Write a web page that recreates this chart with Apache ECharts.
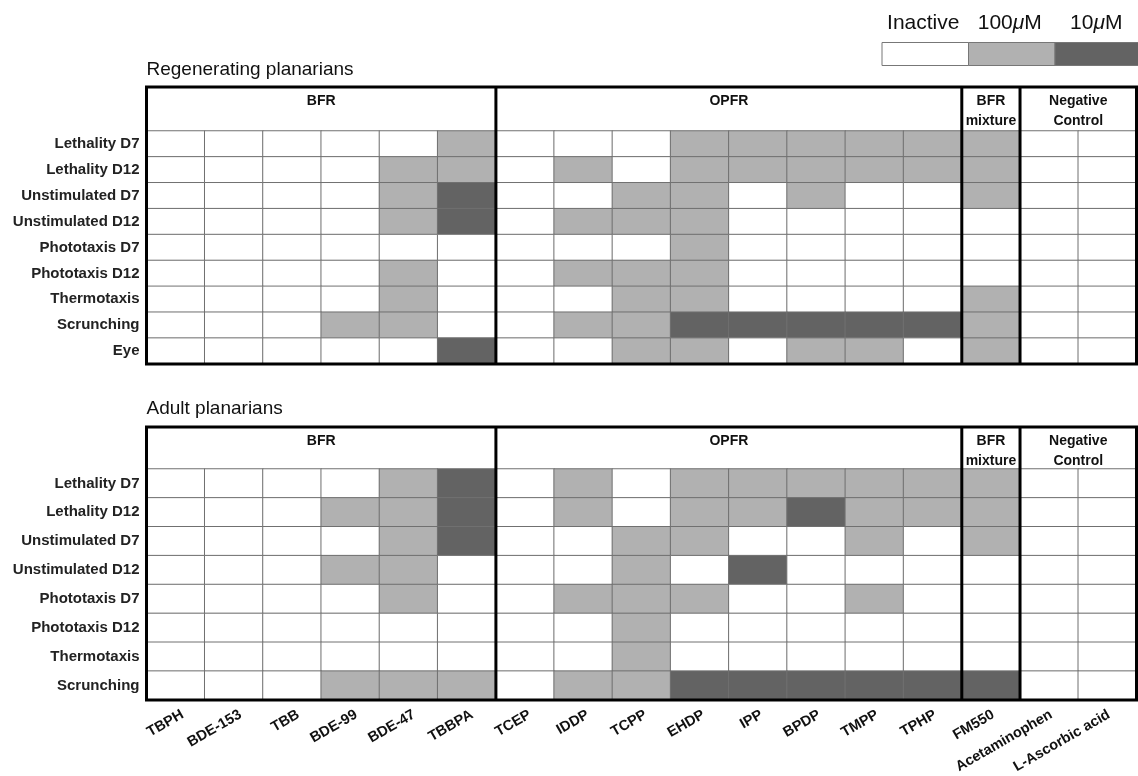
<!DOCTYPE html>
<html>
<head>
<meta charset="utf-8">
<script src="https://cdn.jsdelivr.net/npm/echarts@6/dist/echarts.min.js"></script>
<style>
  html, body { margin: 0; padding: 0; background: #fff; }
  #chart { width: 1138px; height: 776px; }
</style>
</head>
<body>
<div id="chart"></div>
<script>
// compounds, left to right
const compounds = ['TBPH', 'BDE-153', 'TBB', 'BDE-99', 'BDE-47', 'TBBPA', 'TCEP', 'IDDP', 'TCPP',
  'EHDP', 'IPP', 'BPDP', 'TMPP', 'TPHP', 'FM550', 'Acetaminophen', 'L-Ascorbic acid']

// header groups and how many columns each covers
const groupNames = ['BFR', 'OPFR', 'BFR\nmixture', 'Negative\nControl']
const groupSpans = [6, 8, 1, 2]

// 0 = inactive, 1 = 100 µM, 2 = 10 µM
const levels = ['Inactive', '100μM', '10μM']
const levelColors = ['#ffffff', '#b1b1b1', '#636363']

const regenEndpoints = ['Lethality D7', 'Lethality D12', 'Unstimulated D7', 'Unstimulated D12',
  'Phototaxis D7', 'Phototaxis D12', 'Thermotaxis', 'Scrunching', 'Eye']
const regenValues = [
  [0, 0, 0, 0, 0, 1, 0, 0, 0, 1, 1, 1, 1, 1, 1, 0, 0],
  [0, 0, 0, 0, 1, 1, 0, 1, 0, 1, 1, 1, 1, 1, 1, 0, 0],
  [0, 0, 0, 0, 1, 2, 0, 0, 1, 1, 0, 1, 0, 0, 1, 0, 0],
  [0, 0, 0, 0, 1, 2, 0, 1, 1, 1, 0, 0, 0, 0, 0, 0, 0],
  [0, 0, 0, 0, 0, 0, 0, 0, 0, 1, 0, 0, 0, 0, 0, 0, 0],
  [0, 0, 0, 0, 1, 0, 0, 1, 1, 1, 0, 0, 0, 0, 0, 0, 0],
  [0, 0, 0, 0, 1, 0, 0, 0, 1, 1, 0, 0, 0, 0, 1, 0, 0],
  [0, 0, 0, 1, 1, 0, 0, 1, 1, 2, 2, 2, 2, 2, 1, 0, 0],
  [0, 0, 0, 0, 0, 2, 0, 0, 1, 1, 0, 1, 1, 0, 1, 0, 0]
]

const adultEndpoints = ['Lethality D7', 'Lethality D12', 'Unstimulated D7', 'Unstimulated D12',
  'Phototaxis D7', 'Phototaxis D12', 'Thermotaxis', 'Scrunching']
const adultValues = [
  [0, 0, 0, 0, 1, 2, 0, 1, 0, 1, 1, 1, 1, 1, 1, 0, 0],
  [0, 0, 0, 1, 1, 2, 0, 1, 0, 1, 1, 2, 1, 1, 1, 0, 0],
  [0, 0, 0, 0, 1, 2, 0, 0, 1, 1, 0, 0, 1, 0, 1, 0, 0],
  [0, 0, 0, 1, 1, 0, 0, 0, 1, 0, 2, 0, 0, 0, 0, 0, 0],
  [0, 0, 0, 0, 1, 0, 0, 1, 1, 1, 0, 0, 1, 0, 0, 0, 0],
  [0, 0, 0, 0, 0, 0, 0, 0, 1, 0, 0, 0, 0, 0, 0, 0, 0],
  [0, 0, 0, 0, 0, 0, 0, 0, 1, 0, 0, 0, 0, 0, 0, 0, 0],
  [0, 0, 0, 1, 1, 1, 0, 1, 1, 2, 2, 2, 2, 2, 2, 0, 0]
]

const FONT = '"Liberation Sans", Arial, Helvetica, sans-serif'

// panel layout (pixels)
const left = 146.5
const width = 990
const panels = [
  { title: 'Regenerating planarians', titleY: 71, frameTop: 87, top: 131, height: 233 },
  { title: 'Adult planarians', titleY: 410.5, frameTop: 427, top: 469, height: 231 }
]

function toCells(values) {
  const out = []
  values.forEach((row, y) => row.forEach((v, x) => out.push([x, y, v])))
  return out
}

function panelGraphics(p) {
  const els = []
  const colW = width / compounds.length
  const bottom = p.top + p.height
  els.push({
    type: 'text', left: left, top: p.titleY - 11,
    style: { text: p.title, font: '19px ' + FONT, fill: '#111' }
  })
  // header labels and group separators
  let start = 0
  groupNames.forEach((name, i) => {
    const x0 = left + start * colW
    const x1 = x0 + groupSpans[i] * colW
    els.push({
      type: 'text', x: (x0 + x1) / 2, y: p.frameTop + 4.5,
      style: { text: name, font: 'bold 14px ' + FONT, fill: '#111',
        align: 'center', verticalAlign: 'top', lineHeight: 19.5 },
      z: 10
    })
    if (i > 0) {
      els.push({
        type: 'line', shape: { x1: x0, y1: p.frameTop, x2: x0, y2: bottom },
        style: { stroke: '#000', lineWidth: 3 }, z: 20
      })
    }
    start += groupSpans[i]
  })
  els.push({
    type: 'rect', shape: { x: left, y: p.frameTop, width: width, height: bottom - p.frameTop },
    style: { fill: 'none', stroke: '#000', lineWidth: 3 }, z: 20
  })
  return els
}

function legendGraphics() {
  const els = []
  const boxW = 86.5
  const x0 = 882
  levels.forEach((name, i) => {
    const x = x0 + i * boxW
    els.push({
      type: 'rect', shape: { x: x, y: 42.5, width: boxW, height: 23 },
      style: { fill: levelColors[i], stroke: '#777', lineWidth: 1 }
    })
    const parts = name.split('μ')
    const text = parts.length > 1 ? '{n|' + parts[0] + '}{m|μ}{n|' + parts[1] + '}' : '{n|' + name + '}'
    els.push({
      type: 'text', x: x + boxW / 2 - 2, y: 23,
      style: {
        text: text, align: 'center', verticalAlign: 'middle',
        rich: {
          n: { font: '21px ' + FONT, fill: '#111' },
          m: { font: 'italic 21px ' + FONT, fill: '#111' }
        }
      }
    })
  })
  return els
}

const chart = echarts.init(document.getElementById('chart'))

const hiddenAxis = { show: false }

const option = {
  animation: false,
  backgroundColor: '#fff',
  textStyle: { fontFamily: FONT },
  grid: panels.map(p => ({ left: left, width: width, top: p.top, height: p.height }))
    // label-only grid, nudged right like the reference's slanted names
    .concat([{ left: left + 7, width: width, top: panels[1].top, height: panels[1].height }]),
  xAxis: panels.map((p, i) => ({
    type: 'category', gridIndex: i, data: compounds,
    axisLine: { show: false }, axisTick: { show: false }, splitLine: { show: false },
    axisLabel: { show: false }
  })).concat([{
    type: 'category', gridIndex: 2, data: compounds,
    axisLine: { show: false }, axisTick: { show: false }, splitLine: { show: false },
    axisLabel: { interval: 0, rotate: 30, margin: 17, fontSize: 14.5, fontWeight: 'bold', color: '#111', fontFamily: FONT }
  }]),
  yAxis: [regenEndpoints, adultEndpoints].map((rows, i) => ({
    type: 'category', gridIndex: i, data: rows, inverse: true,
    axisLine: { show: false }, axisTick: { show: false }, splitLine: { show: false },
    axisLabel: { margin: 7, fontSize: 15, fontWeight: 'bold', color: '#222', fontFamily: FONT }
  })).concat([{ type: 'category', gridIndex: 2, data: adultEndpoints, show: false }]),
  visualMap: {
    type: 'piecewise', show: false, dimension: 2, seriesIndex: [0, 1],
    pieces: levels.map((name, i) => ({ value: i, color: levelColors[i], label: name }))
  },
  series: [regenValues, adultValues].map((vals, i) => ({
    type: 'heatmap', xAxisIndex: i, yAxisIndex: i, data: toCells(vals),
    itemStyle: { borderColor: '#707070', borderWidth: 1 },
    emphasis: { disabled: true }
  })),
  graphic: panels.flatMap(panelGraphics).concat(legendGraphics())
}

chart.setOption(option)
</script>
</body>
</html>
